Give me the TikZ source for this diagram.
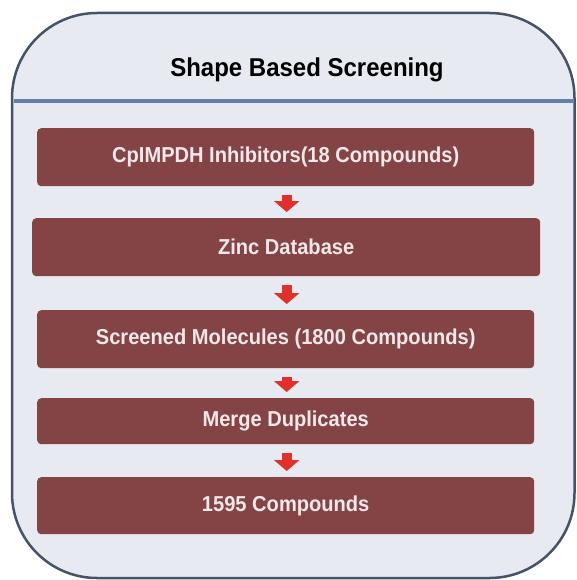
\documentclass[tikz,border=0pt]{standalone}
\usepackage{fontspec}
\setmainfont{Liberation Sans}[FakeStretch=0.93]
\usepackage{tikz}
\usetikzlibrary{arrows.meta, positioning, calc}
\usepackage{xcolor}
\definecolor{panelfill}{RGB}{231,234,241}
\definecolor{panelline}{RGB}{70,82,104}
\definecolor{headblue}{RGB}{100,128,168}
\definecolor{boxred}{RGB}{132,68,70}
\definecolor{boxtext}{RGB}{242,232,234}
\definecolor{arrowred}{RGB}{224,48,42}

\tikzset{
  stagebox/.style={fill=boxred, rounded corners=4pt, text=boxtext, font=\bfseries\fontsize{21.6}{25}\selectfont, anchor=north west, inner sep=0pt, align=center},
  flowarrow/.style={arrowred, line width=10pt, -{Triangle[width=25pt,length=11pt]}, shorten <=9pt, shorten >=6pt}
}

\begin{document}
\begin{tikzpicture}[x=1pt, y=-1pt]
  \useasboundingbox (0,0) rectangle (576,580);
  \draw[panelline, fill=panelfill, line width=2.5pt, rounded corners=85pt] (12,13) rectangle (574.5,578);
  \draw[headblue, line width=4pt] (14,101) -- (573,101);
  \node[font=\bfseries\fontsize{25.8}{30}\selectfont] (title) at (307,70) {Shape Based Screening};

  \node[stagebox, minimum width=497pt, minimum height=58pt] (inhib) at (37,128) {CpIMPDH Inhibitors(18 Compounds)};
  \node[stagebox, minimum width=508pt, minimum height=58pt] (zinc) at (32,218) {Zinc Database};
  \node[stagebox, minimum width=497pt, minimum height=58pt] (screened) at (37,310) {Screened Molecules (1800 Compounds)};
  \node[stagebox, minimum width=497pt, minimum height=46pt] (merge) at (37,398) {Merge Duplicates};
  \node[stagebox, minimum width=497pt, minimum height=57pt] (final) at (37,477) {1595 Compounds};

  \draw[flowarrow] ($(inhib.south)+(1,0)$) -- ($(zinc.north)+(0.5,0)$);
  \draw[flowarrow] ($(zinc.south)+(0.5,0)$) -- ($(screened.north)+(1,0)$);
  \draw[flowarrow] ($(screened.south)+(1,0)$) -- ($(merge.north)+(1,0)$);
  \draw[flowarrow] ($(merge.south)+(1,0)$) -- ($(final.north)+(1,0)$);
\end{tikzpicture}
\end{document}
